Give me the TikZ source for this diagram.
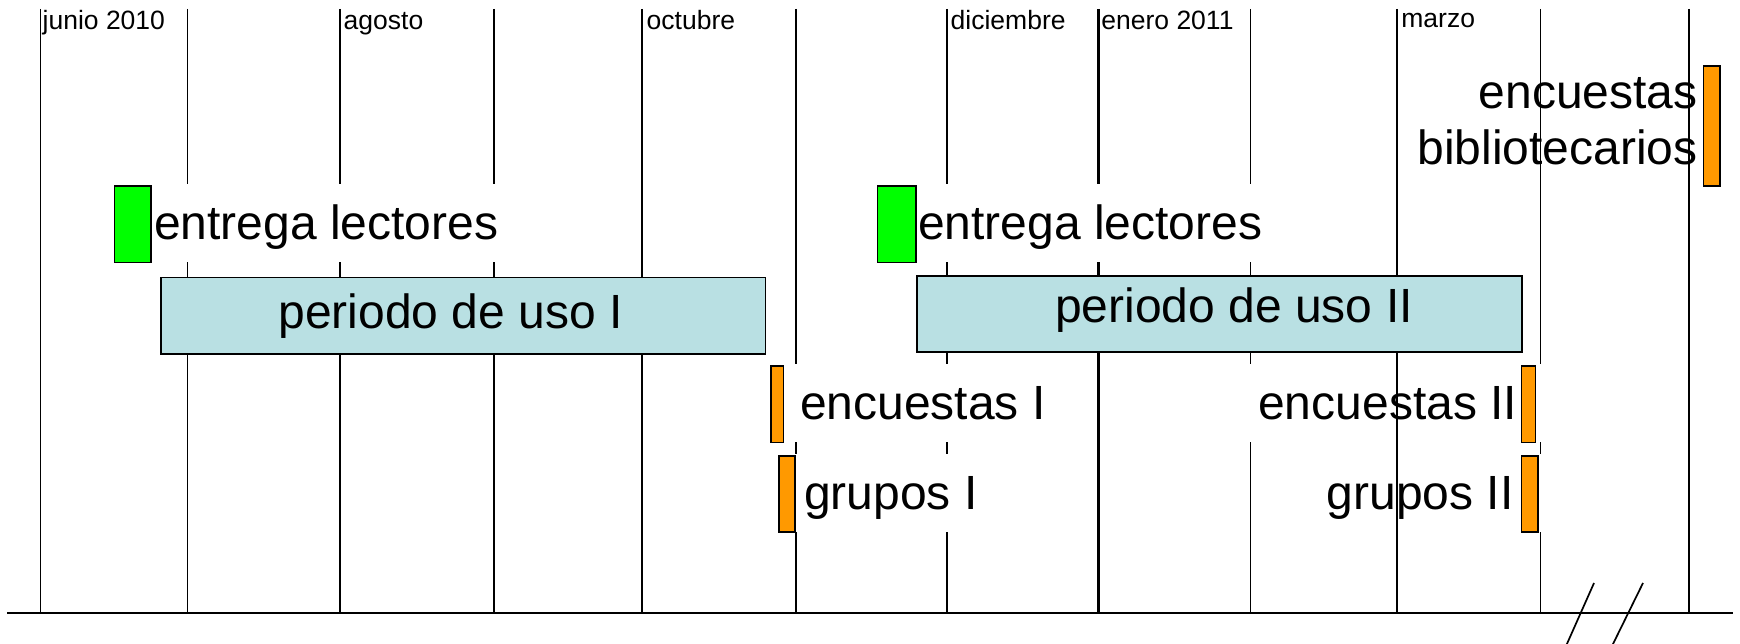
\documentclass[tikz,border=0pt]{standalone}
\usepackage{fontspec}
\setmainfont{Liberation Sans}
\usetikzlibrary{backgrounds}
\definecolor{uso}{RGB}{185,224,227}
\definecolor{lgreen}{RGB}{0,255,0}
\definecolor{lorange}{RGB}{255,153,0}
\begin{document}
\begin{tikzpicture}[x=1pt,y=-1pt,
  grid/.style={line width=1.7pt},
  gridthick/.style={line width=3pt},
  big/.style={font=\fontsize{48}{57}\selectfont, inner sep=0pt},
  knock/.style={big, fill=white, text height=55.5pt, text depth=23pt, inner ysep=0pt},
  month/.style={font=\fontsize{26.5}{31}\selectfont, inner sep=0pt, anchor=base west},
  perbox/.style={draw=black, fill=uso, line width=1.6pt, anchor=north west, inner sep=0pt},
  gbar/.style={draw=black, fill=lgreen, line width=1.6pt, anchor=north west, inner sep=0pt},
  obar/.style={draw=black, fill=lorange, line width=1.6pt, anchor=north west, inner sep=0pt},
]
\useasboundingbox (0,0) rectangle (1740,644);

% grid lines and axis (background)
\begin{scope}[on background layer]
  \foreach \x/\n in {40.5/1,187.6/2,340/3,493.8/4,641.8/5,796.3/6,946.8/7,1250.6/9,1397/10,1540.5/11,1689/12}{
    \coordinate (t\n) at (\x,9);
    \coordinate (b\n) at (\x,613);
    \draw[grid] (t\n) -- (b\n);
  }
  \coordinate (t8) at (1098,9);
  \coordinate (b8) at (1098,613);
  \draw[gridthick] (t8) -- (b8);
  \coordinate (axL) at (7,613);
  \coordinate (axR) at (1733,613);
  \draw[line width=2pt] (axL) -- (axR);
\end{scope}

% month labels
\node[month] (m1) at (42.5,30) {junio 2010};
\node[month] (m2) at (343.5,30) {agosto};
\node[month] (m3) at (646.5,30) {octubre};
\node[month] (m4) at (950.5,30) {diciembre};
\node[month] (m5) at (1101.2,29.5) {enero 2011};
\node[month] (m6) at (1401.2,27.5) {marzo};

% usage periods
\node[perbox, minimum width=604.5pt, minimum height=76.5pt] (per1) at (160,276.7) {};
\node[big, anchor=base west] (per1t) at (278.4,328.3) {periodo de uso I};
\node[perbox, minimum width=604.7pt, minimum height=76pt] (per2) at (916.3,275) {};
\node[big, anchor=base west] (per2t) at (1055,322.7) {periodo de uso II};

% entrega lectores
\node[knock, inner xsep=5pt, anchor=base west] (ent1) at (149,239.3) {entrega lectores};
\node[knock, inner xsep=5pt, anchor=base west] (ent2) at (913,239.3) {entrega lectores};
\node[gbar, minimum width=36.7pt, minimum height=76.7pt] (g1) at (113.7,185) {};
\node[gbar, minimum width=38.3pt, minimum height=76.7pt] (g2) at (876.6,185) {};

% encuestas / grupos
\node[knock, inner xsep=8pt, anchor=base west] (enc1) at (792,419) {encuestas I};
\node[knock, inner xsep=9.5pt, anchor=base west] (grp1) at (794.5,509.3) {grupos I};
\node[knock, inner xsep=26pt, anchor=base east] (enc2) at (1543.3,419) {encuestas II};
\node[knock, inner xsep=28pt, anchor=base east] (grp2) at (1541.6,509.3) {grupos II};
\node[obar, minimum width=12.6pt, minimum height=76.4pt] (ob1) at (770.2,365.3) {};
\node[obar, minimum width=16.4pt, minimum height=76pt] (ob2) at (777.9,455.3) {};
\node[obar, minimum width=14.1pt, minimum height=76.7pt] (ob3) at (1520.7,365) {};
\node[obar, minimum width=16.7pt, minimum height=76pt] (ob4) at (1520.7,455.3) {};

% marzo line drawn over the labels
\draw[grid] (per2.south -| t10) -- (b10);

% encuestas bibliotecarios
\node[big, anchor=base east] (bib1) at (1697.8,108.3) {encuestas};
\node[big, anchor=base east] (bib2) at (1697.8,165) {bibliotecarios};
\node[obar, minimum width=16.7pt, minimum height=119.7pt] (ob5) at (1702.7,65.3) {};

% axis break marks
\coordinate (s1a) at (1594,583);
\coordinate (s1b) at (1566,646);
\coordinate (s2a) at (1643,583);
\coordinate (s2b) at (1612,646);
\draw[grid] (s1a) -- (s1b);
\draw[grid] (s2a) -- (s2b);
\end{tikzpicture}
\end{document}
